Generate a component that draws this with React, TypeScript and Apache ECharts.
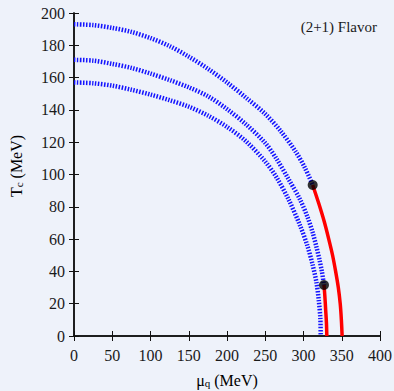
import React, { useEffect, useRef } from "react";
import * as echarts from "echarts";

const xTicks = [0, 50, 100, 150, 200, 250, 300, 350, 400];
const yTicks = [0, 20, 40, 60, 80, 100, 120, 140, 160, 180, 200];

// blue crossover bands [mu_q, T_c]
const blueUpper: number[][] = [
  [0, 193], [25, 192.5], [50, 190.8], [75, 188.3], [100, 184.5], [125, 179.5],
  [150, 173], [175, 165.5], [200, 157], [225, 147.5], [250, 137.5], [270, 127],
  [290, 114], [302, 104], [312, 93.5],
];
const blueMiddle: number[][] = [
  [0, 171], [25, 170.5], [50, 168.5], [75, 166], [100, 162.5], [125, 158.5],
  [150, 154], [175, 148.5], [200, 140.5], [225, 131], [250, 119.5], [265, 109.5],
  [280, 97.5], [295, 85], [305, 74], [312, 64], [317, 55], [321, 47], [324, 40],
  [326.8, 31.6],
];
const blueLower: number[][] = [
  [0, 157], [25, 156.5], [50, 155], [75, 152.5], [100, 149.5], [125, 146],
  [150, 142], [175, 136.5], [200, 129.5], [225, 120.5], [250, 108], [265, 98],
  [280, 85], [295, 69], [305, 56], [312, 44], [317, 33], [320, 22], [322, 11],
  [322.5, 0],
];
// red first-order lines
const redUpper: number[][] = [
  [312, 93.5], [320, 82], [327, 71], [333, 60], [338, 50], [342, 40],
  [345.5, 30], [348, 20], [349.5, 10], [350.5, 0],
];
const redLower: number[][] = [
  [326.8, 31.6], [328, 24], [329, 16], [330, 8], [330.5, 0],
];
// critical end points
const endPoints: number[][] = [
  [312, 93.5],
  [326.8, 31.6],
];

const serif = "Liberation Serif";

export default function App() {
  const ref = useRef<HTMLDivElement>(null);
  useEffect(() => {
    document.body.style.margin = "0";
    const chart = echarts.init(ref.current!, null, { renderer: "svg" });
    const blueStyle = { color: "#1414ff", width: 4.5, type: [1.5, 1.5] as any };
    const redStyle = { color: "#ff0000", width: 3.5 };
    const lineSeries = (data: number[][], style: any, z: number) => ({
      type: "line",
      data,
      showSymbol: false,
      symbol: "none",
      smooth: 0.3,
      lineStyle: style,
      z,
    });
    const axisColor = "#111";
    const textColor = "#1a1a1a";
    const rich = {
      a: { fontFamily: serif, fontSize: 16, color: textColor, lineHeight: 20, verticalAlign: "bottom" },
      s: { fontFamily: serif, fontSize: 11, color: textColor, lineHeight: 14, verticalAlign: "bottom" },
    };
    chart.setOption({
      animation: false,
      backgroundColor: "#eef2fa",
      grid: { left: 74, right: 14, top: 13, bottom: 55, outerBoundsMode: "none", containLabel: false },
      xAxis: [
        {
          type: "value",
          min: 0,
          max: 400,
          interval: 50,
          splitLine: { show: false },
          axisLine: { lineStyle: { color: axisColor, width: 1.5 } },
          axisTick: { inside: true, length: 5, lineStyle: { color: axisColor } },
          axisLabel: { fontFamily: serif, fontSize: 16, color: textColor, margin: 11 },
        },
        {
          type: "value",
          position: "top",
          min: 0,
          max: 400,
          interval: 50,
          splitLine: { show: false },
          axisLine: { lineStyle: { color: axisColor, width: 1.5 } },
          axisTick: { inside: true, length: 5, lineStyle: { color: axisColor } },
          axisLabel: { show: false },
        },
      ],
      yAxis: [
        {
          type: "value",
          min: 0,
          max: 200,
          interval: 20,
          splitLine: { show: false },
          axisLine: { show: true, lineStyle: { color: axisColor, width: 1.5 } },
          axisTick: { show: true, inside: true, length: 5, lineStyle: { color: axisColor } },
          axisLabel: { fontFamily: serif, fontSize: 16, color: textColor, margin: 9 },
        },
        {
          type: "value",
          position: "right",
          min: 0,
          max: 200,
          interval: 20,
          splitLine: { show: false },
          axisLine: { show: true, lineStyle: { color: axisColor, width: 1.5 } },
          axisTick: { show: true, inside: true, length: 5, lineStyle: { color: axisColor } },
          axisLabel: { show: false },
        },
      ],
      graphic: [
        {
          type: "text",
          right: 17,
          top: 19,
          style: {
            text: "(2+1) Flavor",
            fontFamily: serif,
            fontSize: 15,
            fill: textColor,
          },
        },
        {
          type: "text",
          x: 227,
          y: 378,
          style: {
            text: "{a|μ}{s|q}{a| (MeV)}",
            rich,
            align: "center",
            verticalAlign: "middle",
          },
        },
        {
          type: "text",
          x: 14,
          y: 166,
          rotation: Math.PI / 2,
          style: {
            text: "{a|T}{s|c}{a| (MeV)}",
            rich,
            align: "center",
            verticalAlign: "middle",
          },
        },
      ],
      series: [
        lineSeries(blueUpper, blueStyle, 2),
        lineSeries(blueMiddle, blueStyle, 2),
        lineSeries(blueLower, blueStyle, 2),
        lineSeries(redUpper, redStyle, 3),
        lineSeries(redLower, redStyle, 3),
        {
          type: "scatter",
          data: endPoints,
          symbol: "circle",
          symbolSize: 10,
          itemStyle: { color: "#000" },
          z: 4,
        },
      ],
    });
    return () => chart.dispose();
  }, []);
  return (
    <div
      ref={ref}
      style={{ position: "absolute", left: 0, top: 0, width: 394, height: 391 }}
    />
  );
}
